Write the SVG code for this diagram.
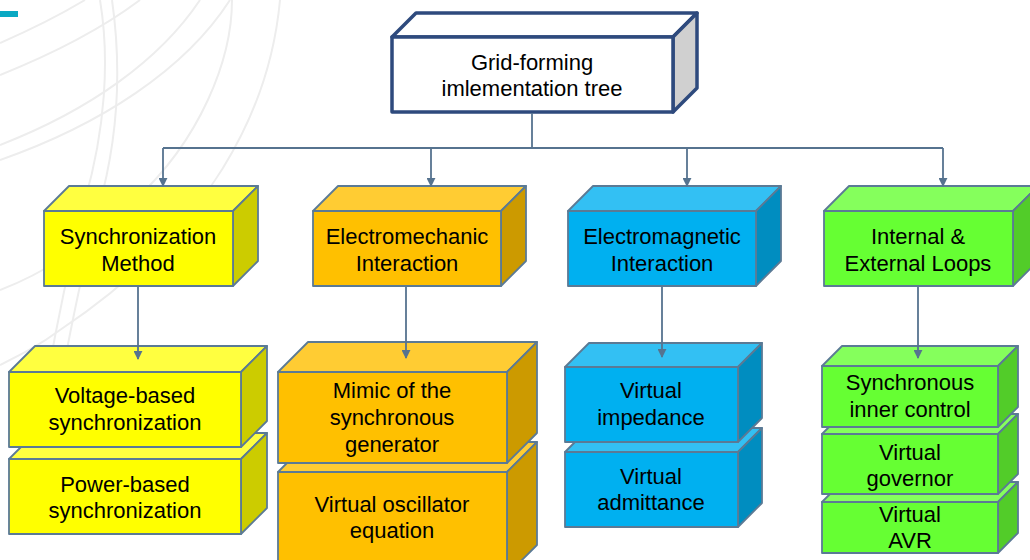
<svg xmlns="http://www.w3.org/2000/svg" width="1030" height="560" viewBox="0 0 1030 560">
<defs>
<marker id="arr" viewBox="0 0 10 10" refX="9" refY="5" markerWidth="9" markerHeight="9" markerUnits="userSpaceOnUse" orient="auto">
<path d="M0,0 L10,5 L0,10 z" fill="#56738f"/>
</marker>
<style>
text{font-family:"Liberation Sans",Arial,sans-serif;font-size:22px;fill:#000;text-anchor:middle}
.bg{fill:none;stroke:#ededed;stroke-width:2}
.b{stroke:#5b7a95;stroke-width:1.8;stroke-linejoin:round}
.root{stroke:#2e4a7d;stroke-width:3.5;stroke-linejoin:round}
.yf{fill:#ffff00}.yt{fill:#ffff40}.ys{fill:#cccc00}
.of{fill:#ffc000}.ot{fill:#ffcc33}.os{fill:#cc9a00}
.bf{fill:#00b0f0}.bt{fill:#33c0f3}.bs{fill:#008dc0}
.gf{fill:#66ff33}.gt{fill:#85ff5c}.gs{fill:#52cc29}
.c{fill:none;stroke:#56738f;stroke-width:1.8}
</style>
</defs>
<rect width="1030" height="560" fill="#ffffff"/>
<g id="background">
<path class="bg" d="M100,0 C110,60 105,130 85,200 C70,260 55,330 40,420"/>
<path class="bg" d="M112,0 C122,70 118,140 98,210 C82,270 68,340 52,430"/>
<path class="bg" d="M200,0 C160,60 90,110 0,145"/>
<path class="bg" d="M230,0 C185,70 100,125 0,160"/>
<path class="bg" d="M232,0 C232,60 200,140 135,200 C90,245 40,275 0,290"/>
<path class="bg" d="M0,43 C30,30 60,15 85,0"/>
<path class="bg" d="M0,75 C50,55 100,30 140,0"/>
<path class="bg" d="M280,0 C270,110 210,230 60,330 C40,345 20,355 0,365"/>
<rect x="0" y="11" width="18" height="6" fill="#0aa9c3"/>
</g>
<g id="root">
<polygon class="root" fill="#ffffff" points="392,37 416,13 697,13 673,37"/>
<polygon class="root" fill="#d0d0d0" points="673,37 697,13 697,88 673,112"/>
<rect class="root" x="392" y="37" width="281" height="75" fill="#ffffff"/>
<text x="532" y="70">Grid-forming</text>
<text x="532" y="96">imlementation tree</text>
</g>
<g id="sync-method">
<polygon class="b yt" points="44,211 69,186 258,186 233,211"/>
<polygon class="b ys" points="233,211 258,186 258,261 233,286"/>
<rect class="b yf" x="44" y="211" width="189" height="75"/>
<text x="138" y="244">Synchronization</text>
<text x="138" y="271">Method</text>
</g>
<g id="electromechanic">
<polygon class="b ot" points="313,211 338,186 526,186 501,211"/>
<polygon class="b os" points="501,211 526,186 526,261 501,286"/>
<rect class="b of" x="313" y="211" width="188" height="75"/>
<text x="407" y="244">Electromechanic</text>
<text x="407" y="271">Interaction</text>
</g>
<g id="electromagnetic">
<polygon class="b bt" points="568,211 593,186 781,186 756,211"/>
<polygon class="b bs" points="756,211 781,186 781,261 756,286"/>
<rect class="b bf" x="568" y="211" width="188" height="75"/>
<text x="662" y="244">Electromagnetic</text>
<text x="662" y="271">Interaction</text>
</g>
<g id="loops">
<polygon class="b gt" points="824,211 849,186 1038,186 1013,211"/>
<polygon class="b gs" points="1013,211 1038,186 1038,261 1013,286"/>
<rect class="b gf" x="824" y="211" width="189" height="75"/>
<text x="918" y="244">Internal &amp;</text>
<text x="918" y="271">External Loops</text>
</g>
<g id="power-based">
<polygon class="b yt" points="9,459 35,433 267,433 241,459"/>
<polygon class="b ys" points="241,459 267,433 267,508 241,534"/>
<rect class="b yf" x="9" y="459" width="232" height="75"/>
<text x="125" y="492">Power-based</text>
<text x="125" y="518">synchronization</text>
</g>
<g id="voltage-based">
<polygon class="b yt" points="9,372 35,346 267,346 241,372"/>
<polygon class="b ys" points="241,372 267,346 267,421 241,447"/>
<rect class="b yf" x="9" y="372" width="232" height="75"/>
<text x="125" y="403">Voltage-based</text>
<text x="125" y="430">synchronization</text>
</g>
<g id="virtual-oscillator">
<polygon class="b ot" points="278,472 308,442 537,442 507,472"/>
<polygon class="b os" points="507,472 537,442 537,545 507,575"/>
<rect class="b of" x="278" y="472" width="229" height="100"/>
<text x="392" y="512">Virtual oscillator</text>
<text x="392" y="538">equation</text>
</g>
<g id="mimic-sg">
<polygon class="b ot" points="278,372 308,342 537,342 507,372"/>
<polygon class="b os" points="507,372 537,342 537,433 507,463"/>
<rect class="b of" x="278" y="372" width="229" height="91"/>
<text x="392" y="398">Mimic of the</text>
<text x="392" y="425">synchronous</text>
<text x="392" y="452">generator</text>
</g>
<g id="virtual-admittance">
<polygon class="b bt" points="565,452 589,428 762,428 738,452"/>
<polygon class="b bs" points="738,452 762,428 762,503 738,527"/>
<rect class="b bf" x="565" y="452" width="173" height="75"/>
<text x="651" y="484">Virtual</text>
<text x="651" y="510">admittance</text>
</g>
<g id="virtual-impedance">
<polygon class="b bt" points="565,367 589,343 762,343 738,367"/>
<polygon class="b bs" points="738,367 762,343 762,418 738,442"/>
<rect class="b bf" x="565" y="367" width="173" height="75"/>
<text x="651" y="398">Virtual</text>
<text x="651" y="425">impedance</text>
</g>
<g id="virtual-avr">
<polygon class="b gt" points="822,502 842,482 1018,482 998,502"/>
<polygon class="b gs" points="998,502 1018,482 1018,533 998,553"/>
<rect class="b gf" x="822" y="502" width="176" height="51"/>
<text x="910" y="522">Virtual</text>
<text x="910" y="548">AVR</text>
</g>
<g id="virtual-governor">
<polygon class="b gt" points="822,434 842,414 1018,414 998,434"/>
<polygon class="b gs" points="998,434 1018,414 1018,474 998,494"/>
<rect class="b gf" x="822" y="434" width="176" height="60"/>
<text x="910" y="460">Virtual</text>
<text x="910" y="486">governor</text>
</g>
<g id="sync-inner">
<polygon class="b gt" points="822,366 842,346 1018,346 998,366"/>
<polygon class="b gs" points="998,366 1018,346 1018,407 998,427"/>
<rect class="b gf" x="822" y="366" width="176" height="61"/>
<text x="910" y="390">Synchronous</text>
<text x="910" y="417">inner control</text>
</g>
<g id="connectors">
<path class="c" d="M532,113 V148"/>
<path class="c" d="M163,148 H943"/>
<path class="c" d="M163,148 V186" marker-end="url(#arr)"/>
<path class="c" d="M431,148 V186" marker-end="url(#arr)"/>
<path class="c" d="M687,148 V186" marker-end="url(#arr)"/>
<path class="c" d="M943,148 V186" marker-end="url(#arr)"/>
<path class="c" d="M138,287 V359" marker-end="url(#arr)"/>
<path class="c" d="M406,287 V358" marker-end="url(#arr)"/>
<path class="c" d="M662,287 V357" marker-end="url(#arr)"/>
<path class="c" d="M918,287 V358" marker-end="url(#arr)"/>
</g>
</svg>
